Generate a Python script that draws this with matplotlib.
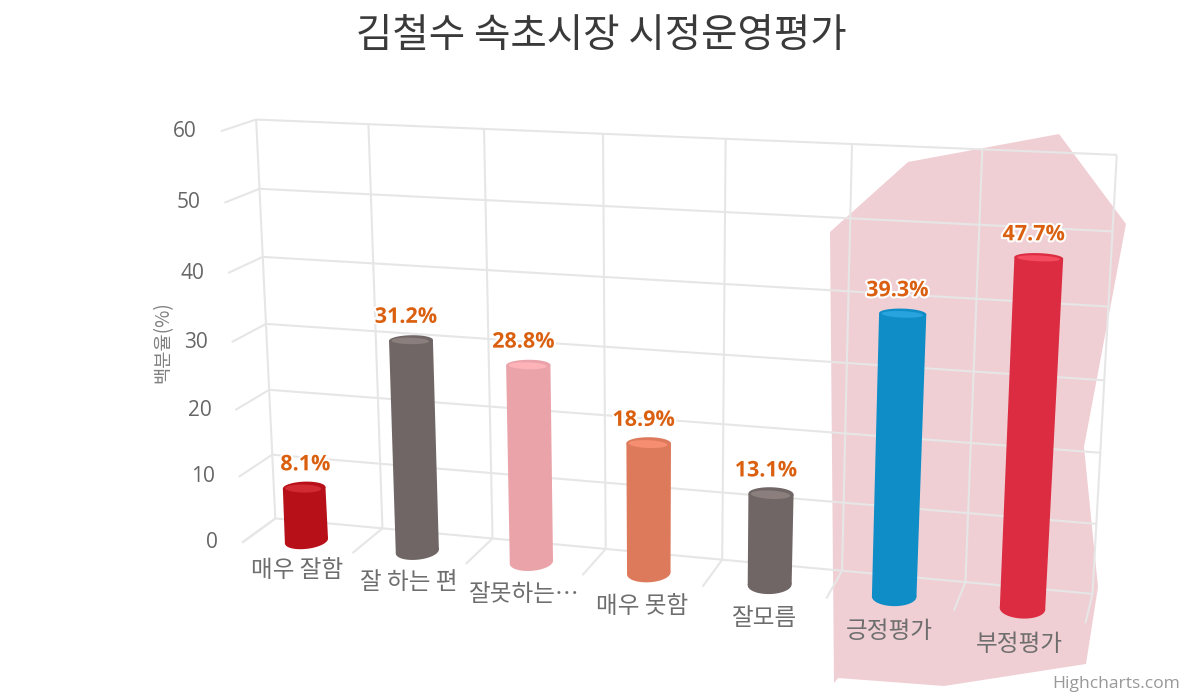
import numpy as np
import matplotlib
matplotlib.use("Agg")
import matplotlib.pyplot as plt
import matplotlib.patheffects as pe

KR = ["Noto Sans CJK KR", "DejaVu Sans"]
NUM = ["Open Sans", "Noto Sans", "DejaVu Sans"]

title = "김철수 속초시장 시정운영평가"
categories = ["매우 잘함", "잘 하는 편", "잘못하는…", "매우 못함", "잘모름", "긍정평가", "부정평가"]
values = [8.1, 31.2, 28.8, 18.9, 13.1, 39.3, 47.7]
side_colors = ["#B81018", "#6F6665", "#E9A3A9", "#DE7A5C", "#6F6665", "#0E8DC6", "#DC2C41"]
top_colors = ["#D12A33", "#8B7F7D", "#FDB3B8", "#F68F72", "#8B7F7D", "#28A3DD", "#F54B60"]
y_ticks = [0, 10, 20, 30, 40, 50, 60]
y_title = "백분율(%)"
credit = "Highcharts.com"

# pink highlight behind the last two bars
band_x = [830, 908, 1059, 1126, 1084, 1098, 1086, 944, 838, 834]
band_y = [232, 162, 134, 224, 447, 587, 664, 686, 678, 683]

# camera: world (u=category, v=value, w=depth 0 back..1 front) -> pixels
calib = [
    ((0, 60, 0), (256, 119)), ((0, 60, 0), (256, 119)), ((7, 60, 0), (1116, 155)),
    ((1, 60, 0), (368, 124)), ((2, 60, 0), (485, 129)),
    ((0, 0, 0), (275, 517)), ((7, 0, 0), (1093, 594)),
    ((0, 60, 1), (221, 130)), ((0, 0, 1), (242, 543)),
    ((1, 0, 1), (352, 553)), ((2, 0, 1), (467, 563)),
    ((4, 0, 1), (702, 587)), ((5, 0, 1), (825, 598)),
    ((6, 0, 1), (953, 611)), ((7, 0, 1), (1087, 623)),
    ((3, 60, 0), (603, 134)), ((3, 0, 0), (606, 549)),
    ((0, 30, 0), (266, 326)), ((0, 30, 1), (232, 344)),
]
A, b = [], []
for (u, v, w), (px, py) in calib:
    A.append([u, v, w, 1, 0, 0, 0, 0, -px * u, -px * v, -px * w])
    b.append(px)
    A.append([0, 0, 0, 0, u, v, w, 1, -py * u, -py * v, -py * w])
    b.append(py)
P = np.linalg.lstsq(np.array(A, float), np.array(b, float), rcond=None)[0]
P = np.append(P, 1).reshape(3, 4)


def proj(u, v, w):
    u, v, w = np.broadcast_arrays(u, v, w)
    pts = np.stack([u, v, w, np.ones_like(u, dtype=float)], axis=-1) @ P.T
    return pts[..., 0] / pts[..., 2], pts[..., 1] / pts[..., 2]


fig = plt.figure(figsize=(12, 7), dpi=100)
ax = fig.add_axes([0, 0, 1, 1])
ax.set_xlim(0, 1200)
ax.set_ylim(700, 0)
ax.axis("off")

ax.fill(band_x, band_y, color="#F0CFD4", lw=0, zorder=1)

grid = dict(color="#E6E6E6", lw=1.5, zorder=2, solid_capstyle="butt")
for t in y_ticks:
    ax.plot(*proj(np.array([0, 7]), t, 0), **grid)
    ax.plot(*proj(0, t, np.array([0, 1])), **grid)
for i in range(len(categories) + 1):
    ax.plot(*proj(i, np.array([0, 60]), 0), **grid)
    ax.plot(*proj(i, 0, np.array([0, 1])), **grid)

# value axis
for t in y_ticks:
    x, y = proj(0, t, 1)
    ax.text(x - 24, y, str(t), ha="right", va="center", fontsize=15,
            color="#666666", family=NUM, zorder=5)
ax.text(163, 342, y_title, rotation=90, ha="center", va="center", fontsize=13.5,
        color="#808080", family=KR, zorder=5)

# cylinders
BAR_W = 0.72
R_U = 0.178
R_W = 0.26
theta = np.linspace(0, 2 * np.pi, 73)
for i, (val, side, top) in enumerate(zip(values, side_colors, top_colors)):
    cu = i + 0.505
    bx, by = proj(cu + 0.97 * R_U * np.cos(theta), 0, BAR_W + 1.25 * R_W * np.sin(theta))
    tx, ty = proj(cu + R_U * np.cos(theta), val, BAR_W + R_W * np.sin(theta))
    tl, tr, bl, br = tx.argmin(), tx.argmax(), bx.argmin(), bx.argmax()
    ax.fill([tx[tl], bx[bl], bx[br], tx[tr]], [ty[tl], by[bl], by[br], ty[tr]],
            color=side, lw=0, zorder=3)
    ax.fill(bx, by, color=side, lw=0, zorder=3)
    ax.fill(tx, ty, color=side, lw=0, zorder=3.1)
    ix, iy = proj(cu + 0.88 * R_U * np.cos(theta), val,
                  BAR_W + 0.03 + 0.62 * R_W * np.sin(theta))
    ax.fill(ix, iy, color=top, lw=0, zorder=3.2)

    cx, cy = proj(cu, val, BAR_W)
    ax.text(cx + 26, cy - 23, f"{val}%", ha="right", va="center", fontsize=15.5,
            fontweight="bold", color="#DA6010", family=NUM, zorder=6,
            path_effects=[pe.withStroke(linewidth=3, foreground="white")])
    lx, ly = proj(i + 0.5, 0, 1)
    ax.text(lx, ly + 23 + 0.8 * i, categories[i], ha="center", va="center", fontsize=17,
            color="#6E6E6E", family=KR, zorder=5)

ax.text(601, 36, title, ha="center", va="center", fontsize=28.5, color="#3A3A3A", family=KR)
ax.text(1180, 684, credit, ha="right", va="center", fontsize=12.6, color="#999999", family=NUM)

fig.savefig("out.png", dpi=100)
